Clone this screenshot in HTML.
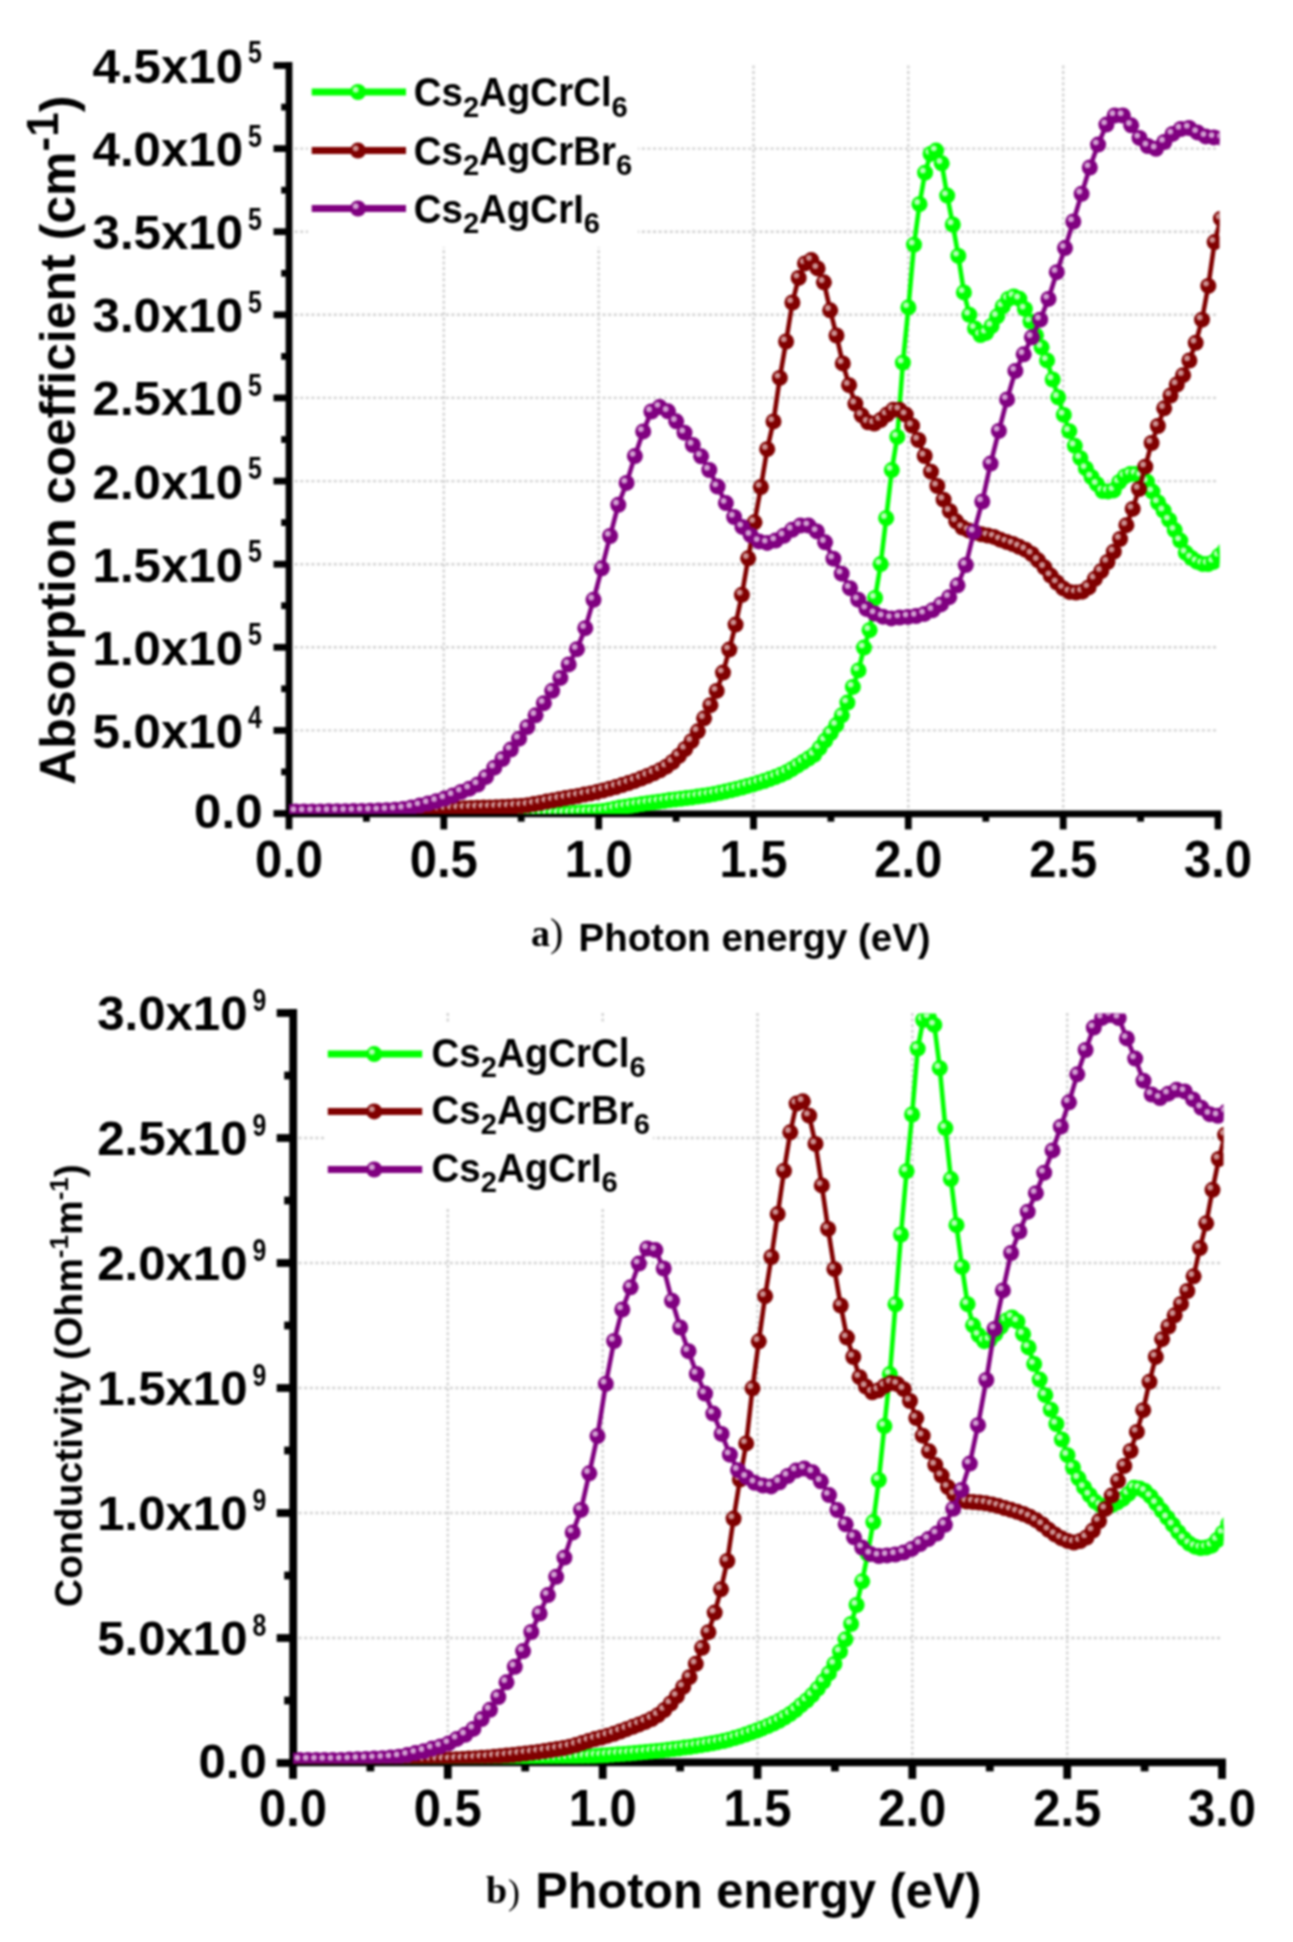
<!DOCTYPE html><html><head><meta charset="utf-8"><style>html,body{margin:0;padding:0;background:#fff;overflow:hidden;}svg{display:block;filter:blur(0.9px);}</style></head><body>
<svg width="1293" height="1942" viewBox="0 0 1293 1942">
<defs>
<g id="mg"><circle r="8" fill="#00ff00"/><circle cx="-2.3" cy="-2.3" r="2.9" fill="#b4ffb4"/></g>
<g id="mr"><circle r="8" fill="#800000"/><circle cx="-2.3" cy="-2.3" r="2.9" fill="#cc9090"/></g>
<g id="mp"><circle r="8" fill="#800080"/><circle cx="-2.3" cy="-2.3" r="2.9" fill="#d2a0d2"/></g>
<clipPath id="cT"><rect x="289" y="66" width="930.5" height="748"/></clipPath>
<clipPath id="cB"><rect x="293" y="1013.5" width="930.5" height="750"/></clipPath>
</defs>
<rect width="1293" height="1942" fill="#fff"/>
<g stroke="#d2d2d2" stroke-width="2.4" stroke-dasharray="3 2.6"><line x1="443.8" y1="65.5" x2="443.8" y2="813.5"/><line x1="598.7" y1="65.5" x2="598.7" y2="813.5"/><line x1="753.5" y1="65.5" x2="753.5" y2="813.5"/><line x1="908.3" y1="65.5" x2="908.3" y2="813.5"/><line x1="1063.2" y1="65.5" x2="1063.2" y2="813.5"/><line x1="289" y1="730.4" x2="1218" y2="730.4"/><line x1="289" y1="647.3" x2="1218" y2="647.3"/><line x1="289" y1="564.2" x2="1218" y2="564.2"/><line x1="289" y1="481.1" x2="1218" y2="481.1"/><line x1="289" y1="397.9" x2="1218" y2="397.9"/><line x1="289" y1="314.8" x2="1218" y2="314.8"/><line x1="289" y1="231.7" x2="1218" y2="231.7"/><line x1="289" y1="148.6" x2="1218" y2="148.6"/></g>
<rect x="308" y="60" width="330" height="187" fill="#fff"/>
<g stroke="#000" stroke-width="6.8"><line x1="289" y1="62.1" x2="289" y2="817.3"/><line x1="285.6" y1="813.9" x2="1221.4" y2="813.9"/><line x1="289" y1="813.9" x2="289" y2="829.4"/><line x1="366.4" y1="813.9" x2="366.4" y2="821.7"/><line x1="443.8" y1="813.9" x2="443.8" y2="829.4"/><line x1="521.2" y1="813.9" x2="521.2" y2="821.7"/><line x1="598.7" y1="813.9" x2="598.7" y2="829.4"/><line x1="676.1" y1="813.9" x2="676.1" y2="821.7"/><line x1="753.5" y1="813.9" x2="753.5" y2="829.4"/><line x1="830.9" y1="813.9" x2="830.9" y2="821.7"/><line x1="908.3" y1="813.9" x2="908.3" y2="829.4"/><line x1="985.8" y1="813.9" x2="985.8" y2="821.7"/><line x1="1063.2" y1="813.9" x2="1063.2" y2="829.4"/><line x1="1140.6" y1="813.9" x2="1140.6" y2="821.7"/><line x1="1218" y1="813.9" x2="1218" y2="829.4"/><line x1="273.5" y1="813.5" x2="289" y2="813.5"/><line x1="281.2" y1="771.9" x2="289" y2="771.9"/><line x1="273.5" y1="730.4" x2="289" y2="730.4"/><line x1="281.2" y1="688.8" x2="289" y2="688.8"/><line x1="273.5" y1="647.3" x2="289" y2="647.3"/><line x1="281.2" y1="605.7" x2="289" y2="605.7"/><line x1="273.5" y1="564.2" x2="289" y2="564.2"/><line x1="281.2" y1="522.6" x2="289" y2="522.6"/><line x1="273.5" y1="481.1" x2="289" y2="481.1"/><line x1="281.2" y1="439.5" x2="289" y2="439.5"/><line x1="273.5" y1="397.9" x2="289" y2="397.9"/><line x1="281.2" y1="356.4" x2="289" y2="356.4"/><line x1="273.5" y1="314.8" x2="289" y2="314.8"/><line x1="281.2" y1="273.3" x2="289" y2="273.3"/><line x1="273.5" y1="231.7" x2="289" y2="231.7"/><line x1="281.2" y1="190.2" x2="289" y2="190.2"/><line x1="273.5" y1="148.6" x2="289" y2="148.6"/><line x1="281.2" y1="107.1" x2="289" y2="107.1"/><line x1="273.5" y1="65.5" x2="289" y2="65.5"/></g>
<g clip-path="url(#cT)">
<polyline points="287,813.5 292.6,813.5 298.1,813.5 303.7,813.5 309.2,813.5 314.8,813.5 320.3,813.5 325.9,813.5 331.4,813.5 337,813.5 342.5,813.5 348.1,813.5 353.6,813.5 359.2,813.5 364.7,813.5 370.2,813.5 375.8,813.5 381.3,813.5 386.9,813.5 392.4,813.5 398,813.5 403.5,813.5 409.1,813.5 414.6,813.5 420.2,813.5 425.7,813.5 431.3,813.5 436.8,813.4 442.4,813.4 447.9,813.4 453.5,813.4 459,813.4 464.6,813.4 470.1,813.3 475.7,813.3 481.2,813.3 486.8,813.3 492.3,813.3 497.9,813.3 503.4,813.3 509,813.4 514.5,813.5 520,813.6 525.6,813.7 531.1,813.8 536.7,813.9 542.2,814 547.8,814 553.3,813.9 558.9,813.7 564.4,813.5 570,813.2 575.5,812.8 581.1,812.5 586.6,812.2 592.2,811.9 597.7,811.6 603.3,811.1 608.8,810.1 614.4,808.8 619.9,807.6 625.5,806.7 631,805.8 636.6,804.9 642.1,804.1 647.7,803.3 653.2,802.5 658.7,801.7 664.3,800.9 669.8,800.1 675.4,799.4 680.9,798.8 686.5,798.1 692,797.4 697.6,796.6 703.1,795.8 708.7,794.9 714.2,793.9 719.8,792.8 725.3,791.6 730.9,790.3 736.4,788.9 742,787.5 747.5,785.9 753.1,784.4 758.6,782.7 764.2,781 769.7,779.1 775.3,777.1 780.8,774.8 786.4,772.3 791.9,769.2 797.4,765.7 803,762.1 808.5,758.6 814.1,754.8 819.6,748.1 825.2,740.6 830.7,733.2 836.3,725.1 841.8,715.3 847.4,702.6 852.9,686.9 858.5,670.4 864,647.6 869.6,630.2 875.1,598 880.7,564.1 886.2,518.2 891.8,470.1 897.3,436.9 902.9,362.7 908.4,307.4 914,244.7 919.5,204.2 925.1,172.7 930.6,153.9 936.1,150.6 941.7,163.3 947.2,195.6 952.8,224.5 958.3,255.9 963.9,292.4 969.4,314.8 975,328.4 980.5,335 986.1,332.9 991.6,326 997.2,316.3 1002.7,306.4 1008.3,299 1013.8,296.5 1019.4,298.8 1024.9,308.9 1030.5,321.6 1036,335.3 1041.6,347.3 1047.1,360.4 1052.7,379.5 1058.2,397.3 1063.8,414.9 1069.3,431.2 1074.8,445.8 1080.4,458.2 1085.9,468.4 1091.5,477 1097,484.2 1102.6,491 1108.1,491.4 1113.7,490.4 1119.2,482.2 1124.8,476.4 1130.3,474.1 1135.9,474.1 1141.4,475.9 1147,481.7 1152.5,491.6 1158.1,502.5 1163.6,510.7 1169.2,519.9 1174.7,530.1 1180.3,540.6 1185.8,552.8 1191.4,558 1196.9,561.7 1202.5,563.9 1208,564 1213.5,561.9 1219.1,555.8 1224.6,550.5" fill="none" stroke="#00ff00" stroke-width="4.6" stroke-linejoin="round"/>
<use href="#mg" x="287" y="813.5"/>
<use href="#mg" x="292.6" y="813.5"/>
<use href="#mg" x="298.1" y="813.5"/>
<use href="#mg" x="303.7" y="813.5"/>
<use href="#mg" x="309.2" y="813.5"/>
<use href="#mg" x="314.8" y="813.5"/>
<use href="#mg" x="320.3" y="813.5"/>
<use href="#mg" x="325.9" y="813.5"/>
<use href="#mg" x="331.4" y="813.5"/>
<use href="#mg" x="337" y="813.5"/>
<use href="#mg" x="342.5" y="813.5"/>
<use href="#mg" x="348.1" y="813.5"/>
<use href="#mg" x="353.6" y="813.5"/>
<use href="#mg" x="359.2" y="813.5"/>
<use href="#mg" x="364.7" y="813.5"/>
<use href="#mg" x="370.2" y="813.5"/>
<use href="#mg" x="375.8" y="813.5"/>
<use href="#mg" x="381.3" y="813.5"/>
<use href="#mg" x="386.9" y="813.5"/>
<use href="#mg" x="392.4" y="813.5"/>
<use href="#mg" x="398" y="813.5"/>
<use href="#mg" x="403.5" y="813.5"/>
<use href="#mg" x="409.1" y="813.5"/>
<use href="#mg" x="414.6" y="813.5"/>
<use href="#mg" x="420.2" y="813.5"/>
<use href="#mg" x="425.7" y="813.5"/>
<use href="#mg" x="431.3" y="813.5"/>
<use href="#mg" x="436.8" y="813.4"/>
<use href="#mg" x="442.4" y="813.4"/>
<use href="#mg" x="447.9" y="813.4"/>
<use href="#mg" x="453.5" y="813.4"/>
<use href="#mg" x="459" y="813.4"/>
<use href="#mg" x="464.6" y="813.4"/>
<use href="#mg" x="470.1" y="813.3"/>
<use href="#mg" x="475.7" y="813.3"/>
<use href="#mg" x="481.2" y="813.3"/>
<use href="#mg" x="486.8" y="813.3"/>
<use href="#mg" x="492.3" y="813.3"/>
<use href="#mg" x="497.9" y="813.3"/>
<use href="#mg" x="503.4" y="813.3"/>
<use href="#mg" x="509" y="813.4"/>
<use href="#mg" x="514.5" y="813.5"/>
<use href="#mg" x="520" y="813.6"/>
<use href="#mg" x="525.6" y="813.7"/>
<use href="#mg" x="531.1" y="813.8"/>
<use href="#mg" x="536.7" y="813.9"/>
<use href="#mg" x="542.2" y="814"/>
<use href="#mg" x="547.8" y="814"/>
<use href="#mg" x="553.3" y="813.9"/>
<use href="#mg" x="558.9" y="813.7"/>
<use href="#mg" x="564.4" y="813.5"/>
<use href="#mg" x="570" y="813.2"/>
<use href="#mg" x="575.5" y="812.8"/>
<use href="#mg" x="581.1" y="812.5"/>
<use href="#mg" x="586.6" y="812.2"/>
<use href="#mg" x="592.2" y="811.9"/>
<use href="#mg" x="597.7" y="811.6"/>
<use href="#mg" x="603.3" y="811.1"/>
<use href="#mg" x="608.8" y="810.1"/>
<use href="#mg" x="614.4" y="808.8"/>
<use href="#mg" x="619.9" y="807.6"/>
<use href="#mg" x="625.5" y="806.7"/>
<use href="#mg" x="631" y="805.8"/>
<use href="#mg" x="636.6" y="804.9"/>
<use href="#mg" x="642.1" y="804.1"/>
<use href="#mg" x="647.7" y="803.3"/>
<use href="#mg" x="653.2" y="802.5"/>
<use href="#mg" x="658.7" y="801.7"/>
<use href="#mg" x="664.3" y="800.9"/>
<use href="#mg" x="669.8" y="800.1"/>
<use href="#mg" x="675.4" y="799.4"/>
<use href="#mg" x="680.9" y="798.8"/>
<use href="#mg" x="686.5" y="798.1"/>
<use href="#mg" x="692" y="797.4"/>
<use href="#mg" x="697.6" y="796.6"/>
<use href="#mg" x="703.1" y="795.8"/>
<use href="#mg" x="708.7" y="794.9"/>
<use href="#mg" x="714.2" y="793.9"/>
<use href="#mg" x="719.8" y="792.8"/>
<use href="#mg" x="725.3" y="791.6"/>
<use href="#mg" x="730.9" y="790.3"/>
<use href="#mg" x="736.4" y="788.9"/>
<use href="#mg" x="742" y="787.5"/>
<use href="#mg" x="747.5" y="785.9"/>
<use href="#mg" x="753.1" y="784.4"/>
<use href="#mg" x="758.6" y="782.7"/>
<use href="#mg" x="764.2" y="781"/>
<use href="#mg" x="769.7" y="779.1"/>
<use href="#mg" x="775.3" y="777.1"/>
<use href="#mg" x="780.8" y="774.8"/>
<use href="#mg" x="786.4" y="772.3"/>
<use href="#mg" x="791.9" y="769.2"/>
<use href="#mg" x="797.4" y="765.7"/>
<use href="#mg" x="803" y="762.1"/>
<use href="#mg" x="808.5" y="758.6"/>
<use href="#mg" x="814.1" y="754.8"/>
<use href="#mg" x="819.6" y="748.1"/>
<use href="#mg" x="825.2" y="740.6"/>
<use href="#mg" x="830.7" y="733.2"/>
<use href="#mg" x="836.3" y="725.1"/>
<use href="#mg" x="841.8" y="715.3"/>
<use href="#mg" x="847.4" y="702.6"/>
<use href="#mg" x="852.9" y="686.9"/>
<use href="#mg" x="858.5" y="670.4"/>
<use href="#mg" x="864" y="647.6"/>
<use href="#mg" x="869.6" y="630.2"/>
<use href="#mg" x="875.1" y="598"/>
<use href="#mg" x="880.7" y="564.1"/>
<use href="#mg" x="886.2" y="518.2"/>
<use href="#mg" x="891.8" y="470.1"/>
<use href="#mg" x="897.3" y="436.9"/>
<use href="#mg" x="902.9" y="362.7"/>
<use href="#mg" x="908.4" y="307.4"/>
<use href="#mg" x="914" y="244.7"/>
<use href="#mg" x="919.5" y="204.2"/>
<use href="#mg" x="925.1" y="172.7"/>
<use href="#mg" x="930.6" y="153.9"/>
<use href="#mg" x="936.1" y="150.6"/>
<use href="#mg" x="941.7" y="163.3"/>
<use href="#mg" x="947.2" y="195.6"/>
<use href="#mg" x="952.8" y="224.5"/>
<use href="#mg" x="958.3" y="255.9"/>
<use href="#mg" x="963.9" y="292.4"/>
<use href="#mg" x="969.4" y="314.8"/>
<use href="#mg" x="975" y="328.4"/>
<use href="#mg" x="980.5" y="335"/>
<use href="#mg" x="986.1" y="332.9"/>
<use href="#mg" x="991.6" y="326"/>
<use href="#mg" x="997.2" y="316.3"/>
<use href="#mg" x="1002.7" y="306.4"/>
<use href="#mg" x="1008.3" y="299"/>
<use href="#mg" x="1013.8" y="296.5"/>
<use href="#mg" x="1019.4" y="298.8"/>
<use href="#mg" x="1024.9" y="308.9"/>
<use href="#mg" x="1030.5" y="321.6"/>
<use href="#mg" x="1036" y="335.3"/>
<use href="#mg" x="1041.6" y="347.3"/>
<use href="#mg" x="1047.1" y="360.4"/>
<use href="#mg" x="1052.7" y="379.5"/>
<use href="#mg" x="1058.2" y="397.3"/>
<use href="#mg" x="1063.8" y="414.9"/>
<use href="#mg" x="1069.3" y="431.2"/>
<use href="#mg" x="1074.8" y="445.8"/>
<use href="#mg" x="1080.4" y="458.2"/>
<use href="#mg" x="1085.9" y="468.4"/>
<use href="#mg" x="1091.5" y="477"/>
<use href="#mg" x="1097" y="484.2"/>
<use href="#mg" x="1102.6" y="491"/>
<use href="#mg" x="1108.1" y="491.4"/>
<use href="#mg" x="1113.7" y="490.4"/>
<use href="#mg" x="1119.2" y="482.2"/>
<use href="#mg" x="1124.8" y="476.4"/>
<use href="#mg" x="1130.3" y="474.1"/>
<use href="#mg" x="1135.9" y="474.1"/>
<use href="#mg" x="1141.4" y="475.9"/>
<use href="#mg" x="1147" y="481.7"/>
<use href="#mg" x="1152.5" y="491.6"/>
<use href="#mg" x="1158.1" y="502.5"/>
<use href="#mg" x="1163.6" y="510.7"/>
<use href="#mg" x="1169.2" y="519.9"/>
<use href="#mg" x="1174.7" y="530.1"/>
<use href="#mg" x="1180.3" y="540.6"/>
<use href="#mg" x="1185.8" y="552.8"/>
<use href="#mg" x="1191.4" y="558"/>
<use href="#mg" x="1196.9" y="561.7"/>
<use href="#mg" x="1202.5" y="563.9"/>
<use href="#mg" x="1208" y="564"/>
<use href="#mg" x="1213.5" y="561.9"/>
<use href="#mg" x="1219.1" y="555.8"/>
<use href="#mg" x="1224.6" y="550.5"/>
</g>
<g clip-path="url(#cT)">
<polyline points="288.2,812.5 294.5,812.5 300.8,812.5 307.1,812.5 313.4,812.5 319.7,812.5 326,812.5 332.3,812.5 338.6,812.5 344.9,812.4 351.2,812.3 357.5,812.2 363.8,812.1 370.1,812 376.4,811.9 382.7,811.8 389,811.6 395.3,811.5 401.6,811.4 407.9,811.2 414.2,811 420.5,810.8 426.8,810.5 433.1,810.2 439.4,809.8 445.8,809.3 452.1,808.9 458.4,808.6 464.7,808.3 471,808 477.3,807.8 483.6,807.6 489.9,807.4 496.2,807.2 502.5,807 508.8,806.7 515.1,806.3 521.4,805.9 527.7,805.2 534,804.1 540.3,802.9 546.6,801.6 552.9,800.4 559.2,799.3 565.5,798.1 571.8,797 578.1,795.9 584.4,794.6 590.7,793.4 597,791.9 603.3,790.4 609.6,788.7 615.9,787 622.2,785.1 628.5,783.1 634.8,780.9 641.1,778.6 647.4,776 653.7,773.3 660,770.3 666.3,766.7 672.6,762 678.9,755.9 685.2,749 691.5,741.2 697.8,731.3 704.1,718.3 710.4,705.2 716.7,690.9 723,672.6 729.3,649.6 735.6,624.6 741.9,594.8 748.2,558.3 754.5,522.3 760.9,487.1 767.2,449.2 773.5,421.4 779.8,377.9 786.1,341.5 792.4,302.5 798.7,277.9 805,263.4 811.3,260.1 817.6,268.4 823.9,282.3 830.2,310.3 836.5,335.5 842.8,363.4 849.1,385.2 855.4,403.8 861.7,415.3 868,422.3 874.3,423.5 880.6,420.1 886.9,414.6 893.2,409.8 899.5,409.8 905.8,414.6 912.1,425.7 918.4,440 924.7,456 931,471.7 937.3,486 943.6,499.7 949.9,511.2 956.2,521.3 962.5,527.6 968.8,530.4 975.1,532.5 981.4,534.3 987.7,535.6 994,536.9 1000.3,539.7 1006.6,541.9 1012.9,544 1019.2,546.8 1025.5,549.7 1031.8,554 1038.1,560.3 1044.4,567.3 1050.7,575.6 1057,582.6 1063.3,588.4 1069.6,591.9 1076,592.6 1082.3,591.7 1088.6,587.4 1094.9,578.8 1101.2,571.2 1107.5,562 1113.8,551.7 1120.1,539 1126.4,525.2 1132.7,508.9 1139,489 1145.3,466.7 1151.6,443 1157.9,426 1164.2,408.3 1170.5,395.5 1176.8,384.5 1183.1,375.2 1189.4,360.5 1195.7,342.8 1202,319.7 1208.3,285.9 1214.6,242.1 1220.9,218.7" fill="none" stroke="#800000" stroke-width="4.6" stroke-linejoin="round"/>
<use href="#mr" x="288.2" y="812.5"/>
<use href="#mr" x="294.5" y="812.5"/>
<use href="#mr" x="300.8" y="812.5"/>
<use href="#mr" x="307.1" y="812.5"/>
<use href="#mr" x="313.4" y="812.5"/>
<use href="#mr" x="319.7" y="812.5"/>
<use href="#mr" x="326" y="812.5"/>
<use href="#mr" x="332.3" y="812.5"/>
<use href="#mr" x="338.6" y="812.5"/>
<use href="#mr" x="344.9" y="812.4"/>
<use href="#mr" x="351.2" y="812.3"/>
<use href="#mr" x="357.5" y="812.2"/>
<use href="#mr" x="363.8" y="812.1"/>
<use href="#mr" x="370.1" y="812"/>
<use href="#mr" x="376.4" y="811.9"/>
<use href="#mr" x="382.7" y="811.8"/>
<use href="#mr" x="389" y="811.6"/>
<use href="#mr" x="395.3" y="811.5"/>
<use href="#mr" x="401.6" y="811.4"/>
<use href="#mr" x="407.9" y="811.2"/>
<use href="#mr" x="414.2" y="811"/>
<use href="#mr" x="420.5" y="810.8"/>
<use href="#mr" x="426.8" y="810.5"/>
<use href="#mr" x="433.1" y="810.2"/>
<use href="#mr" x="439.4" y="809.8"/>
<use href="#mr" x="445.8" y="809.3"/>
<use href="#mr" x="452.1" y="808.9"/>
<use href="#mr" x="458.4" y="808.6"/>
<use href="#mr" x="464.7" y="808.3"/>
<use href="#mr" x="471" y="808"/>
<use href="#mr" x="477.3" y="807.8"/>
<use href="#mr" x="483.6" y="807.6"/>
<use href="#mr" x="489.9" y="807.4"/>
<use href="#mr" x="496.2" y="807.2"/>
<use href="#mr" x="502.5" y="807"/>
<use href="#mr" x="508.8" y="806.7"/>
<use href="#mr" x="515.1" y="806.3"/>
<use href="#mr" x="521.4" y="805.9"/>
<use href="#mr" x="527.7" y="805.2"/>
<use href="#mr" x="534" y="804.1"/>
<use href="#mr" x="540.3" y="802.9"/>
<use href="#mr" x="546.6" y="801.6"/>
<use href="#mr" x="552.9" y="800.4"/>
<use href="#mr" x="559.2" y="799.3"/>
<use href="#mr" x="565.5" y="798.1"/>
<use href="#mr" x="571.8" y="797"/>
<use href="#mr" x="578.1" y="795.9"/>
<use href="#mr" x="584.4" y="794.6"/>
<use href="#mr" x="590.7" y="793.4"/>
<use href="#mr" x="597" y="791.9"/>
<use href="#mr" x="603.3" y="790.4"/>
<use href="#mr" x="609.6" y="788.7"/>
<use href="#mr" x="615.9" y="787"/>
<use href="#mr" x="622.2" y="785.1"/>
<use href="#mr" x="628.5" y="783.1"/>
<use href="#mr" x="634.8" y="780.9"/>
<use href="#mr" x="641.1" y="778.6"/>
<use href="#mr" x="647.4" y="776"/>
<use href="#mr" x="653.7" y="773.3"/>
<use href="#mr" x="660" y="770.3"/>
<use href="#mr" x="666.3" y="766.7"/>
<use href="#mr" x="672.6" y="762"/>
<use href="#mr" x="678.9" y="755.9"/>
<use href="#mr" x="685.2" y="749"/>
<use href="#mr" x="691.5" y="741.2"/>
<use href="#mr" x="697.8" y="731.3"/>
<use href="#mr" x="704.1" y="718.3"/>
<use href="#mr" x="710.4" y="705.2"/>
<use href="#mr" x="716.7" y="690.9"/>
<use href="#mr" x="723" y="672.6"/>
<use href="#mr" x="729.3" y="649.6"/>
<use href="#mr" x="735.6" y="624.6"/>
<use href="#mr" x="741.9" y="594.8"/>
<use href="#mr" x="748.2" y="558.3"/>
<use href="#mr" x="754.5" y="522.3"/>
<use href="#mr" x="760.9" y="487.1"/>
<use href="#mr" x="767.2" y="449.2"/>
<use href="#mr" x="773.5" y="421.4"/>
<use href="#mr" x="779.8" y="377.9"/>
<use href="#mr" x="786.1" y="341.5"/>
<use href="#mr" x="792.4" y="302.5"/>
<use href="#mr" x="798.7" y="277.9"/>
<use href="#mr" x="805" y="263.4"/>
<use href="#mr" x="811.3" y="260.1"/>
<use href="#mr" x="817.6" y="268.4"/>
<use href="#mr" x="823.9" y="282.3"/>
<use href="#mr" x="830.2" y="310.3"/>
<use href="#mr" x="836.5" y="335.5"/>
<use href="#mr" x="842.8" y="363.4"/>
<use href="#mr" x="849.1" y="385.2"/>
<use href="#mr" x="855.4" y="403.8"/>
<use href="#mr" x="861.7" y="415.3"/>
<use href="#mr" x="868" y="422.3"/>
<use href="#mr" x="874.3" y="423.5"/>
<use href="#mr" x="880.6" y="420.1"/>
<use href="#mr" x="886.9" y="414.6"/>
<use href="#mr" x="893.2" y="409.8"/>
<use href="#mr" x="899.5" y="409.8"/>
<use href="#mr" x="905.8" y="414.6"/>
<use href="#mr" x="912.1" y="425.7"/>
<use href="#mr" x="918.4" y="440"/>
<use href="#mr" x="924.7" y="456"/>
<use href="#mr" x="931" y="471.7"/>
<use href="#mr" x="937.3" y="486"/>
<use href="#mr" x="943.6" y="499.7"/>
<use href="#mr" x="949.9" y="511.2"/>
<use href="#mr" x="956.2" y="521.3"/>
<use href="#mr" x="962.5" y="527.6"/>
<use href="#mr" x="968.8" y="530.4"/>
<use href="#mr" x="975.1" y="532.5"/>
<use href="#mr" x="981.4" y="534.3"/>
<use href="#mr" x="987.7" y="535.6"/>
<use href="#mr" x="994" y="536.9"/>
<use href="#mr" x="1000.3" y="539.7"/>
<use href="#mr" x="1006.6" y="541.9"/>
<use href="#mr" x="1012.9" y="544"/>
<use href="#mr" x="1019.2" y="546.8"/>
<use href="#mr" x="1025.5" y="549.7"/>
<use href="#mr" x="1031.8" y="554"/>
<use href="#mr" x="1038.1" y="560.3"/>
<use href="#mr" x="1044.4" y="567.3"/>
<use href="#mr" x="1050.7" y="575.6"/>
<use href="#mr" x="1057" y="582.6"/>
<use href="#mr" x="1063.3" y="588.4"/>
<use href="#mr" x="1069.6" y="591.9"/>
<use href="#mr" x="1076" y="592.6"/>
<use href="#mr" x="1082.3" y="591.7"/>
<use href="#mr" x="1088.6" y="587.4"/>
<use href="#mr" x="1094.9" y="578.8"/>
<use href="#mr" x="1101.2" y="571.2"/>
<use href="#mr" x="1107.5" y="562"/>
<use href="#mr" x="1113.8" y="551.7"/>
<use href="#mr" x="1120.1" y="539"/>
<use href="#mr" x="1126.4" y="525.2"/>
<use href="#mr" x="1132.7" y="508.9"/>
<use href="#mr" x="1139" y="489"/>
<use href="#mr" x="1145.3" y="466.7"/>
<use href="#mr" x="1151.6" y="443"/>
<use href="#mr" x="1157.9" y="426"/>
<use href="#mr" x="1164.2" y="408.3"/>
<use href="#mr" x="1170.5" y="395.5"/>
<use href="#mr" x="1176.8" y="384.5"/>
<use href="#mr" x="1183.1" y="375.2"/>
<use href="#mr" x="1189.4" y="360.5"/>
<use href="#mr" x="1195.7" y="342.8"/>
<use href="#mr" x="1202" y="319.7"/>
<use href="#mr" x="1208.3" y="285.9"/>
<use href="#mr" x="1214.6" y="242.1"/>
<use href="#mr" x="1220.9" y="218.7"/>
</g>
<g clip-path="url(#cT)">
<polyline points="287.5,811.5 295.7,811.5 304,811.5 312.3,811.4 320.5,811.4 328.8,811.3 337.1,811.2 345.4,811.2 353.6,811.1 361.9,810.9 370.2,810.8 378.5,810.6 386.7,810.2 395,809.7 403.3,809 411.5,807.5 419.8,805.6 428.1,803.5 436.4,801.2 444.6,798.6 452.9,795.5 461.2,791.9 469.4,788.7 477.7,784.5 486,776.9 494.3,767.7 502.5,759 510.8,749.6 519.1,738.7 527.3,727 535.6,715.3 543.9,703.2 552.2,690.8 560.4,677.9 568.7,664.4 577,649.2 585.3,628.2 593.5,599.8 601.8,568.3 610.1,536 618.3,504.8 626.6,482.9 634.9,456.1 643.2,431.4 651.4,411.5 659.7,407.1 668,411.3 676.2,421.3 684.5,432.7 692.8,445 701.1,456.3 709.3,470 717.6,486.6 725.9,503.1 734.1,517 742.4,526.9 750.7,535.2 759,541.4 767.2,542.9 775.5,540.6 783.8,535.8 792.1,529.8 800.3,525.6 808.6,525.6 816.9,531.4 825.1,542.3 833.4,558.7 841.7,573.7 850,588.2 858.2,599.7 866.5,608.9 874.8,613.6 883,616.7 891.3,618.4 899.6,617.6 907.9,616.9 916.1,616.1 924.4,613.9 932.7,610.2 940.9,604.4 949.2,597.2 957.5,585.3 965.8,565 974,531.8 982.3,501.5 990.6,463.6 998.9,430.9 1007.1,399.4 1015.4,370.9 1023.7,354.3 1031.9,337.3 1040.2,319.7 1048.5,298.9 1056.8,272.2 1065,248.1 1073.3,221.5 1081.6,193.8 1089.8,167.5 1098.1,144.6 1106.4,124.6 1114.7,115.5 1122.9,115.5 1131.2,125.3 1139.5,137.9 1147.7,146 1156,148.8 1164.3,142 1172.6,133.9 1180.8,129 1189.1,128 1197.4,132.4 1205.7,136.4 1213.9,137.4 1222.2,138" fill="none" stroke="#800080" stroke-width="4.6" stroke-linejoin="round"/>
<use href="#mp" x="287.5" y="811.5"/>
<use href="#mp" x="295.7" y="811.5"/>
<use href="#mp" x="304" y="811.5"/>
<use href="#mp" x="312.3" y="811.4"/>
<use href="#mp" x="320.5" y="811.4"/>
<use href="#mp" x="328.8" y="811.3"/>
<use href="#mp" x="337.1" y="811.2"/>
<use href="#mp" x="345.4" y="811.2"/>
<use href="#mp" x="353.6" y="811.1"/>
<use href="#mp" x="361.9" y="810.9"/>
<use href="#mp" x="370.2" y="810.8"/>
<use href="#mp" x="378.5" y="810.6"/>
<use href="#mp" x="386.7" y="810.2"/>
<use href="#mp" x="395" y="809.7"/>
<use href="#mp" x="403.3" y="809"/>
<use href="#mp" x="411.5" y="807.5"/>
<use href="#mp" x="419.8" y="805.6"/>
<use href="#mp" x="428.1" y="803.5"/>
<use href="#mp" x="436.4" y="801.2"/>
<use href="#mp" x="444.6" y="798.6"/>
<use href="#mp" x="452.9" y="795.5"/>
<use href="#mp" x="461.2" y="791.9"/>
<use href="#mp" x="469.4" y="788.7"/>
<use href="#mp" x="477.7" y="784.5"/>
<use href="#mp" x="486" y="776.9"/>
<use href="#mp" x="494.3" y="767.7"/>
<use href="#mp" x="502.5" y="759"/>
<use href="#mp" x="510.8" y="749.6"/>
<use href="#mp" x="519.1" y="738.7"/>
<use href="#mp" x="527.3" y="727"/>
<use href="#mp" x="535.6" y="715.3"/>
<use href="#mp" x="543.9" y="703.2"/>
<use href="#mp" x="552.2" y="690.8"/>
<use href="#mp" x="560.4" y="677.9"/>
<use href="#mp" x="568.7" y="664.4"/>
<use href="#mp" x="577" y="649.2"/>
<use href="#mp" x="585.3" y="628.2"/>
<use href="#mp" x="593.5" y="599.8"/>
<use href="#mp" x="601.8" y="568.3"/>
<use href="#mp" x="610.1" y="536"/>
<use href="#mp" x="618.3" y="504.8"/>
<use href="#mp" x="626.6" y="482.9"/>
<use href="#mp" x="634.9" y="456.1"/>
<use href="#mp" x="643.2" y="431.4"/>
<use href="#mp" x="651.4" y="411.5"/>
<use href="#mp" x="659.7" y="407.1"/>
<use href="#mp" x="668" y="411.3"/>
<use href="#mp" x="676.2" y="421.3"/>
<use href="#mp" x="684.5" y="432.7"/>
<use href="#mp" x="692.8" y="445"/>
<use href="#mp" x="701.1" y="456.3"/>
<use href="#mp" x="709.3" y="470"/>
<use href="#mp" x="717.6" y="486.6"/>
<use href="#mp" x="725.9" y="503.1"/>
<use href="#mp" x="734.1" y="517"/>
<use href="#mp" x="742.4" y="526.9"/>
<use href="#mp" x="750.7" y="535.2"/>
<use href="#mp" x="759" y="541.4"/>
<use href="#mp" x="767.2" y="542.9"/>
<use href="#mp" x="775.5" y="540.6"/>
<use href="#mp" x="783.8" y="535.8"/>
<use href="#mp" x="792.1" y="529.8"/>
<use href="#mp" x="800.3" y="525.6"/>
<use href="#mp" x="808.6" y="525.6"/>
<use href="#mp" x="816.9" y="531.4"/>
<use href="#mp" x="825.1" y="542.3"/>
<use href="#mp" x="833.4" y="558.7"/>
<use href="#mp" x="841.7" y="573.7"/>
<use href="#mp" x="850" y="588.2"/>
<use href="#mp" x="858.2" y="599.7"/>
<use href="#mp" x="866.5" y="608.9"/>
<use href="#mp" x="874.8" y="613.6"/>
<use href="#mp" x="883" y="616.7"/>
<use href="#mp" x="891.3" y="618.4"/>
<use href="#mp" x="899.6" y="617.6"/>
<use href="#mp" x="907.9" y="616.9"/>
<use href="#mp" x="916.1" y="616.1"/>
<use href="#mp" x="924.4" y="613.9"/>
<use href="#mp" x="932.7" y="610.2"/>
<use href="#mp" x="940.9" y="604.4"/>
<use href="#mp" x="949.2" y="597.2"/>
<use href="#mp" x="957.5" y="585.3"/>
<use href="#mp" x="965.8" y="565"/>
<use href="#mp" x="974" y="531.8"/>
<use href="#mp" x="982.3" y="501.5"/>
<use href="#mp" x="990.6" y="463.6"/>
<use href="#mp" x="998.9" y="430.9"/>
<use href="#mp" x="1007.1" y="399.4"/>
<use href="#mp" x="1015.4" y="370.9"/>
<use href="#mp" x="1023.7" y="354.3"/>
<use href="#mp" x="1031.9" y="337.3"/>
<use href="#mp" x="1040.2" y="319.7"/>
<use href="#mp" x="1048.5" y="298.9"/>
<use href="#mp" x="1056.8" y="272.2"/>
<use href="#mp" x="1065" y="248.1"/>
<use href="#mp" x="1073.3" y="221.5"/>
<use href="#mp" x="1081.6" y="193.8"/>
<use href="#mp" x="1089.8" y="167.5"/>
<use href="#mp" x="1098.1" y="144.6"/>
<use href="#mp" x="1106.4" y="124.6"/>
<use href="#mp" x="1114.7" y="115.5"/>
<use href="#mp" x="1122.9" y="115.5"/>
<use href="#mp" x="1131.2" y="125.3"/>
<use href="#mp" x="1139.5" y="137.9"/>
<use href="#mp" x="1147.7" y="146"/>
<use href="#mp" x="1156" y="148.8"/>
<use href="#mp" x="1164.3" y="142"/>
<use href="#mp" x="1172.6" y="133.9"/>
<use href="#mp" x="1180.8" y="129"/>
<use href="#mp" x="1189.1" y="128"/>
<use href="#mp" x="1197.4" y="132.4"/>
<use href="#mp" x="1205.7" y="136.4"/>
<use href="#mp" x="1213.9" y="137.4"/>
<use href="#mp" x="1222.2" y="138"/>
</g>
<g font-family='"Liberation Sans", sans-serif' font-weight="bold" fill="#000">
<line x1="311.7" y1="92" x2="406" y2="92" stroke="#00ff00" stroke-width="7"/><use href="#mg" x="358" y="92"/><text transform="translate(413.7,106.4) scale(1.04,1.08)" font-size="37"><tspan>Cs</tspan><tspan font-size="28" dy="9.4">2</tspan><tspan dy="-9.4" font-size="37">&#8203;</tspan><tspan>AgCrCl</tspan><tspan font-size="28" dy="9.4">6</tspan><tspan dy="-9.4" font-size="37">&#8203;</tspan></text><line x1="311.7" y1="150.6" x2="406" y2="150.6" stroke="#800000" stroke-width="7"/><use href="#mr" x="358" y="150.6"/><text transform="translate(413.7,165) scale(1.04,1.08)" font-size="37"><tspan>Cs</tspan><tspan font-size="28" dy="9.4">2</tspan><tspan dy="-9.4" font-size="37">&#8203;</tspan><tspan>AgCrBr</tspan><tspan font-size="28" dy="9.4">6</tspan><tspan dy="-9.4" font-size="37">&#8203;</tspan></text><line x1="311.7" y1="208.5" x2="406" y2="208.5" stroke="#800080" stroke-width="7"/><use href="#mp" x="358" y="208.5"/><text transform="translate(413.7,222.9) scale(1.04,1.08)" font-size="37"><tspan>Cs</tspan><tspan font-size="28" dy="9.4">2</tspan><tspan dy="-9.4" font-size="37">&#8203;</tspan><tspan>AgCrI</tspan><tspan font-size="28" dy="9.4">6</tspan><tspan dy="-9.4" font-size="37">&#8203;</tspan></text>
</g>
<g font-family='"Liberation Sans", sans-serif' font-weight="bold" font-size="48" fill="#000">
<text transform="translate(289,877) scale(1.02,1.07)" text-anchor="middle">0.0</text><text transform="translate(443.8,877) scale(1.02,1.07)" text-anchor="middle">0.5</text><text transform="translate(598.7,877) scale(1.02,1.07)" text-anchor="middle">1.0</text><text transform="translate(753.5,877) scale(1.02,1.07)" text-anchor="middle">1.5</text><text transform="translate(908.3,877) scale(1.02,1.07)" text-anchor="middle">2.0</text><text transform="translate(1063.2,877) scale(1.02,1.07)" text-anchor="middle">2.5</text><text transform="translate(1218,877) scale(1.02,1.07)" text-anchor="middle">3.0</text>
<text transform="translate(262.5,828.1) scale(1.025,1)" text-anchor="end">0.0</text><text transform="translate(243,747.8) scale(1.025,1)" text-anchor="end">5.0x10</text><text transform="translate(248,728.3) scale(0.8,1)" font-size="31">4</text><text transform="translate(243,664.7) scale(1.025,1)" text-anchor="end">1.0x10</text><text transform="translate(248,645.2) scale(0.8,1)" font-size="31">5</text><text transform="translate(243,581.6) scale(1.025,1)" text-anchor="end">1.5x10</text><text transform="translate(248,562.1) scale(0.8,1)" font-size="31">5</text><text transform="translate(243,498.5) scale(1.025,1)" text-anchor="end">2.0x10</text><text transform="translate(248,479) scale(0.8,1)" font-size="31">5</text><text transform="translate(243,415.3) scale(1.025,1)" text-anchor="end">2.5x10</text><text transform="translate(248,395.8) scale(0.8,1)" font-size="31">5</text><text transform="translate(243,332.2) scale(1.025,1)" text-anchor="end">3.0x10</text><text transform="translate(248,312.7) scale(0.8,1)" font-size="31">5</text><text transform="translate(243,249.1) scale(1.025,1)" text-anchor="end">3.5x10</text><text transform="translate(248,229.6) scale(0.8,1)" font-size="31">5</text><text transform="translate(243,166) scale(1.025,1)" text-anchor="end">4.0x10</text><text transform="translate(248,146.5) scale(0.8,1)" font-size="31">5</text><text transform="translate(243,82.9) scale(1.025,1)" text-anchor="end">4.5x10</text><text transform="translate(248,63.4) scale(0.8,1)" font-size="31">5</text>
</g>
<text transform="translate(74.5,784.8) rotate(-90)" font-family='"Liberation Sans", sans-serif' font-weight="bold" font-size="50" fill="#000">Absorption coefficient (cm<tspan font-size="44" dy="-17">-1</tspan><tspan dy="17">)</tspan></text>
<text x="531" y="945.5" font-family='"Liberation Serif", serif' font-weight="bold" font-size="38">a</text>
<text x="550" y="946" font-family='"Liberation Serif", serif' font-size="40">)</text>
<text x="578.6" y="950.5" font-family='"Liberation Sans", sans-serif' font-weight="bold" font-size="38.4" fill="#000">Photon energy (eV)</text>
<g stroke="#d2d2d2" stroke-width="2.4" stroke-dasharray="3 2.6"><line x1="447.8" y1="1013" x2="447.8" y2="1763"/><line x1="602.7" y1="1013" x2="602.7" y2="1763"/><line x1="757.5" y1="1013" x2="757.5" y2="1763"/><line x1="912.3" y1="1013" x2="912.3" y2="1763"/><line x1="1067.2" y1="1013" x2="1067.2" y2="1763"/><line x1="293" y1="1638" x2="1222" y2="1638"/><line x1="293" y1="1513" x2="1222" y2="1513"/><line x1="293" y1="1388" x2="1222" y2="1388"/><line x1="293" y1="1263" x2="1222" y2="1263"/><line x1="293" y1="1138" x2="1222" y2="1138"/></g>
<rect x="325" y="1024" width="328" height="184" fill="#fff"/>
<g stroke="#000" stroke-width="7.8"><line x1="293.2" y1="1009.1" x2="293.2" y2="1766.3"/><line x1="289.3" y1="1762.4" x2="1225.9" y2="1762.4"/><line x1="293" y1="1762.4" x2="293" y2="1778.9"/><line x1="370.4" y1="1762.4" x2="370.4" y2="1771.4"/><line x1="447.8" y1="1762.4" x2="447.8" y2="1778.9"/><line x1="525.2" y1="1762.4" x2="525.2" y2="1771.4"/><line x1="602.7" y1="1762.4" x2="602.7" y2="1778.9"/><line x1="680.1" y1="1762.4" x2="680.1" y2="1771.4"/><line x1="757.5" y1="1762.4" x2="757.5" y2="1778.9"/><line x1="834.9" y1="1762.4" x2="834.9" y2="1771.4"/><line x1="912.3" y1="1762.4" x2="912.3" y2="1778.9"/><line x1="989.8" y1="1762.4" x2="989.8" y2="1771.4"/><line x1="1067.2" y1="1762.4" x2="1067.2" y2="1778.9"/><line x1="1144.6" y1="1762.4" x2="1144.6" y2="1771.4"/><line x1="1222" y1="1762.4" x2="1222" y2="1778.9"/><line x1="276.7" y1="1763" x2="293.2" y2="1763"/><line x1="284.2" y1="1700.5" x2="293.2" y2="1700.5"/><line x1="276.7" y1="1638" x2="293.2" y2="1638"/><line x1="284.2" y1="1575.5" x2="293.2" y2="1575.5"/><line x1="276.7" y1="1513" x2="293.2" y2="1513"/><line x1="284.2" y1="1450.5" x2="293.2" y2="1450.5"/><line x1="276.7" y1="1388" x2="293.2" y2="1388"/><line x1="284.2" y1="1325.5" x2="293.2" y2="1325.5"/><line x1="276.7" y1="1263" x2="293.2" y2="1263"/><line x1="284.2" y1="1200.5" x2="293.2" y2="1200.5"/><line x1="276.7" y1="1138" x2="293.2" y2="1138"/><line x1="284.2" y1="1075.5" x2="293.2" y2="1075.5"/><line x1="276.7" y1="1013" x2="293.2" y2="1013"/></g>
<g clip-path="url(#cB)">
<polyline points="290.7,1762.5 296.3,1762.5 301.8,1762.5 307.4,1762.5 312.9,1762.5 318.5,1762.5 324,1762.5 329.6,1762.5 335.1,1762.5 340.7,1762.5 346.2,1762.5 351.8,1762.5 357.3,1762.5 362.9,1762.5 368.4,1762.5 374,1762.5 379.5,1762.5 385,1762.5 390.6,1762.5 396.1,1762.5 401.7,1762.5 407.2,1762.5 412.8,1762.5 418.3,1762.5 423.9,1762.5 429.4,1762.5 435,1762.5 440.5,1762.5 446.1,1762.5 451.6,1762.5 457.2,1762.5 462.7,1762.4 468.3,1762.4 473.8,1762.3 479.4,1762.2 484.9,1762.1 490.5,1762 496,1761.9 501.6,1761.7 507.1,1761.6 512.7,1761.4 518.2,1761.2 523.7,1761.1 529.3,1760.9 534.8,1760.7 540.4,1760.5 545.9,1760.2 551.5,1759.9 557,1759.5 562.6,1759.1 568.1,1758.6 573.7,1758.1 579.2,1757.6 584.8,1757 590.3,1756.5 595.9,1756 601.4,1755.6 607,1755.2 612.5,1754.7 618.1,1754.3 623.6,1753.9 629.2,1753.5 634.7,1753 640.3,1752.6 645.8,1752.1 651.4,1751.5 656.9,1750.9 662.4,1750.4 668,1749.7 673.5,1749.1 679.1,1748.4 684.6,1747.6 690.2,1746.9 695.7,1746.1 701.3,1745.2 706.8,1744.3 712.4,1743.3 717.9,1742.2 723.5,1741.1 729,1739.7 734.6,1738.1 740.1,1736.4 745.7,1734.5 751.2,1732.6 756.8,1730.5 762.3,1728.4 767.9,1726 773.4,1723.5 779,1720.8 784.5,1717.5 790.1,1714.1 795.6,1710.1 801.1,1705.2 806.7,1700.5 812.2,1695.1 817.8,1688.7 823.3,1681.5 828.9,1673.4 834.4,1664 840,1651.7 845.5,1639.3 851.1,1624 856.6,1605 862.2,1581.3 867.7,1553.9 873.3,1522.1 878.8,1480 884.4,1426.1 889.9,1374.1 895.5,1304.3 901,1234.5 906.6,1171.2 912.1,1114.5 917.7,1048.7 923.2,1020 928.8,1017.3 934.3,1024.9 939.8,1068.2 945.4,1128.1 950.9,1179.1 956.5,1225.2 962,1266.9 967.6,1304.2 973.1,1325.3 978.7,1335.1 984.2,1341.2 989.8,1340 995.3,1334.2 1000.9,1326.9 1006.4,1320.4 1012,1317.4 1017.5,1321.4 1023.1,1334.2 1028.6,1347.4 1034.2,1364.1 1039.7,1379.6 1045.3,1395.2 1050.8,1409.7 1056.4,1424 1061.9,1439.6 1067.5,1455.2 1073,1467.5 1078.5,1478.3 1084.1,1487.4 1089.6,1495 1095.2,1501.7 1100.7,1505.4 1106.3,1507 1111.8,1505.2 1117.4,1502.3 1122.9,1498.9 1128.5,1493.9 1134,1487.8 1139.6,1488.4 1145.1,1491.1 1150.7,1496.4 1156.2,1503.3 1161.8,1510.6 1167.3,1517.7 1172.9,1524.8 1178.4,1532.2 1184,1538.7 1189.5,1543.7 1195.1,1546.7 1200.6,1548.1 1206.2,1547.6 1211.7,1545.7 1217.2,1540 1222.8,1533 1228.3,1524" fill="none" stroke="#00ff00" stroke-width="4.6" stroke-linejoin="round"/>
<use href="#mg" x="290.7" y="1762.5"/>
<use href="#mg" x="296.3" y="1762.5"/>
<use href="#mg" x="301.8" y="1762.5"/>
<use href="#mg" x="307.4" y="1762.5"/>
<use href="#mg" x="312.9" y="1762.5"/>
<use href="#mg" x="318.5" y="1762.5"/>
<use href="#mg" x="324" y="1762.5"/>
<use href="#mg" x="329.6" y="1762.5"/>
<use href="#mg" x="335.1" y="1762.5"/>
<use href="#mg" x="340.7" y="1762.5"/>
<use href="#mg" x="346.2" y="1762.5"/>
<use href="#mg" x="351.8" y="1762.5"/>
<use href="#mg" x="357.3" y="1762.5"/>
<use href="#mg" x="362.9" y="1762.5"/>
<use href="#mg" x="368.4" y="1762.5"/>
<use href="#mg" x="374" y="1762.5"/>
<use href="#mg" x="379.5" y="1762.5"/>
<use href="#mg" x="385" y="1762.5"/>
<use href="#mg" x="390.6" y="1762.5"/>
<use href="#mg" x="396.1" y="1762.5"/>
<use href="#mg" x="401.7" y="1762.5"/>
<use href="#mg" x="407.2" y="1762.5"/>
<use href="#mg" x="412.8" y="1762.5"/>
<use href="#mg" x="418.3" y="1762.5"/>
<use href="#mg" x="423.9" y="1762.5"/>
<use href="#mg" x="429.4" y="1762.5"/>
<use href="#mg" x="435" y="1762.5"/>
<use href="#mg" x="440.5" y="1762.5"/>
<use href="#mg" x="446.1" y="1762.5"/>
<use href="#mg" x="451.6" y="1762.5"/>
<use href="#mg" x="457.2" y="1762.5"/>
<use href="#mg" x="462.7" y="1762.4"/>
<use href="#mg" x="468.3" y="1762.4"/>
<use href="#mg" x="473.8" y="1762.3"/>
<use href="#mg" x="479.4" y="1762.2"/>
<use href="#mg" x="484.9" y="1762.1"/>
<use href="#mg" x="490.5" y="1762"/>
<use href="#mg" x="496" y="1761.9"/>
<use href="#mg" x="501.6" y="1761.7"/>
<use href="#mg" x="507.1" y="1761.6"/>
<use href="#mg" x="512.7" y="1761.4"/>
<use href="#mg" x="518.2" y="1761.2"/>
<use href="#mg" x="523.7" y="1761.1"/>
<use href="#mg" x="529.3" y="1760.9"/>
<use href="#mg" x="534.8" y="1760.7"/>
<use href="#mg" x="540.4" y="1760.5"/>
<use href="#mg" x="545.9" y="1760.2"/>
<use href="#mg" x="551.5" y="1759.9"/>
<use href="#mg" x="557" y="1759.5"/>
<use href="#mg" x="562.6" y="1759.1"/>
<use href="#mg" x="568.1" y="1758.6"/>
<use href="#mg" x="573.7" y="1758.1"/>
<use href="#mg" x="579.2" y="1757.6"/>
<use href="#mg" x="584.8" y="1757"/>
<use href="#mg" x="590.3" y="1756.5"/>
<use href="#mg" x="595.9" y="1756"/>
<use href="#mg" x="601.4" y="1755.6"/>
<use href="#mg" x="607" y="1755.2"/>
<use href="#mg" x="612.5" y="1754.7"/>
<use href="#mg" x="618.1" y="1754.3"/>
<use href="#mg" x="623.6" y="1753.9"/>
<use href="#mg" x="629.2" y="1753.5"/>
<use href="#mg" x="634.7" y="1753"/>
<use href="#mg" x="640.3" y="1752.6"/>
<use href="#mg" x="645.8" y="1752.1"/>
<use href="#mg" x="651.4" y="1751.5"/>
<use href="#mg" x="656.9" y="1750.9"/>
<use href="#mg" x="662.4" y="1750.4"/>
<use href="#mg" x="668" y="1749.7"/>
<use href="#mg" x="673.5" y="1749.1"/>
<use href="#mg" x="679.1" y="1748.4"/>
<use href="#mg" x="684.6" y="1747.6"/>
<use href="#mg" x="690.2" y="1746.9"/>
<use href="#mg" x="695.7" y="1746.1"/>
<use href="#mg" x="701.3" y="1745.2"/>
<use href="#mg" x="706.8" y="1744.3"/>
<use href="#mg" x="712.4" y="1743.3"/>
<use href="#mg" x="717.9" y="1742.2"/>
<use href="#mg" x="723.5" y="1741.1"/>
<use href="#mg" x="729" y="1739.7"/>
<use href="#mg" x="734.6" y="1738.1"/>
<use href="#mg" x="740.1" y="1736.4"/>
<use href="#mg" x="745.7" y="1734.5"/>
<use href="#mg" x="751.2" y="1732.6"/>
<use href="#mg" x="756.8" y="1730.5"/>
<use href="#mg" x="762.3" y="1728.4"/>
<use href="#mg" x="767.9" y="1726"/>
<use href="#mg" x="773.4" y="1723.5"/>
<use href="#mg" x="779" y="1720.8"/>
<use href="#mg" x="784.5" y="1717.5"/>
<use href="#mg" x="790.1" y="1714.1"/>
<use href="#mg" x="795.6" y="1710.1"/>
<use href="#mg" x="801.1" y="1705.2"/>
<use href="#mg" x="806.7" y="1700.5"/>
<use href="#mg" x="812.2" y="1695.1"/>
<use href="#mg" x="817.8" y="1688.7"/>
<use href="#mg" x="823.3" y="1681.5"/>
<use href="#mg" x="828.9" y="1673.4"/>
<use href="#mg" x="834.4" y="1664"/>
<use href="#mg" x="840" y="1651.7"/>
<use href="#mg" x="845.5" y="1639.3"/>
<use href="#mg" x="851.1" y="1624"/>
<use href="#mg" x="856.6" y="1605"/>
<use href="#mg" x="862.2" y="1581.3"/>
<use href="#mg" x="867.7" y="1553.9"/>
<use href="#mg" x="873.3" y="1522.1"/>
<use href="#mg" x="878.8" y="1480"/>
<use href="#mg" x="884.4" y="1426.1"/>
<use href="#mg" x="889.9" y="1374.1"/>
<use href="#mg" x="895.5" y="1304.3"/>
<use href="#mg" x="901" y="1234.5"/>
<use href="#mg" x="906.6" y="1171.2"/>
<use href="#mg" x="912.1" y="1114.5"/>
<use href="#mg" x="917.7" y="1048.7"/>
<use href="#mg" x="923.2" y="1020"/>
<use href="#mg" x="928.8" y="1017.3"/>
<use href="#mg" x="934.3" y="1024.9"/>
<use href="#mg" x="939.8" y="1068.2"/>
<use href="#mg" x="945.4" y="1128.1"/>
<use href="#mg" x="950.9" y="1179.1"/>
<use href="#mg" x="956.5" y="1225.2"/>
<use href="#mg" x="962" y="1266.9"/>
<use href="#mg" x="967.6" y="1304.2"/>
<use href="#mg" x="973.1" y="1325.3"/>
<use href="#mg" x="978.7" y="1335.1"/>
<use href="#mg" x="984.2" y="1341.2"/>
<use href="#mg" x="989.8" y="1340"/>
<use href="#mg" x="995.3" y="1334.2"/>
<use href="#mg" x="1000.9" y="1326.9"/>
<use href="#mg" x="1006.4" y="1320.4"/>
<use href="#mg" x="1012" y="1317.4"/>
<use href="#mg" x="1017.5" y="1321.4"/>
<use href="#mg" x="1023.1" y="1334.2"/>
<use href="#mg" x="1028.6" y="1347.4"/>
<use href="#mg" x="1034.2" y="1364.1"/>
<use href="#mg" x="1039.7" y="1379.6"/>
<use href="#mg" x="1045.3" y="1395.2"/>
<use href="#mg" x="1050.8" y="1409.7"/>
<use href="#mg" x="1056.4" y="1424"/>
<use href="#mg" x="1061.9" y="1439.6"/>
<use href="#mg" x="1067.5" y="1455.2"/>
<use href="#mg" x="1073" y="1467.5"/>
<use href="#mg" x="1078.5" y="1478.3"/>
<use href="#mg" x="1084.1" y="1487.4"/>
<use href="#mg" x="1089.6" y="1495"/>
<use href="#mg" x="1095.2" y="1501.7"/>
<use href="#mg" x="1100.7" y="1505.4"/>
<use href="#mg" x="1106.3" y="1507"/>
<use href="#mg" x="1111.8" y="1505.2"/>
<use href="#mg" x="1117.4" y="1502.3"/>
<use href="#mg" x="1122.9" y="1498.9"/>
<use href="#mg" x="1128.5" y="1493.9"/>
<use href="#mg" x="1134" y="1487.8"/>
<use href="#mg" x="1139.6" y="1488.4"/>
<use href="#mg" x="1145.1" y="1491.1"/>
<use href="#mg" x="1150.7" y="1496.4"/>
<use href="#mg" x="1156.2" y="1503.3"/>
<use href="#mg" x="1161.8" y="1510.6"/>
<use href="#mg" x="1167.3" y="1517.7"/>
<use href="#mg" x="1172.9" y="1524.8"/>
<use href="#mg" x="1178.4" y="1532.2"/>
<use href="#mg" x="1184" y="1538.7"/>
<use href="#mg" x="1189.5" y="1543.7"/>
<use href="#mg" x="1195.1" y="1546.7"/>
<use href="#mg" x="1200.6" y="1548.1"/>
<use href="#mg" x="1206.2" y="1547.6"/>
<use href="#mg" x="1211.7" y="1545.7"/>
<use href="#mg" x="1217.2" y="1540"/>
<use href="#mg" x="1222.8" y="1533"/>
<use href="#mg" x="1228.3" y="1524"/>
</g>
<g clip-path="url(#cB)">
<polyline points="292.4,1761.5 298.8,1761.5 305.1,1761.5 311.4,1761.4 317.7,1761.4 324,1761.4 330.3,1761.3 336.6,1761.3 342.9,1761.2 349.2,1761.2 355.5,1761.1 361.8,1761.1 368.1,1761 374.4,1761 380.7,1760.9 387,1760.8 393.3,1760.8 399.6,1760.7 405.9,1760.6 412.2,1760.5 418.5,1760.4 424.8,1760.3 431.1,1760.1 437.4,1760 443.7,1759.8 450,1759.6 456.3,1759.3 462.6,1759 468.9,1758.6 475.2,1758.2 481.5,1757.8 487.8,1757.4 494.1,1756.8 500.4,1756.2 506.7,1755.6 513,1754.9 519.3,1754.2 525.6,1753.4 531.9,1752.7 538.2,1751.9 544.5,1751 550.8,1750.1 557.1,1749.1 563.4,1748 569.7,1746.7 576,1745 582.3,1742.9 588.6,1740.9 594.9,1739.1 601.2,1737.5 607.6,1735.7 613.9,1733.8 620.2,1731.5 626.5,1729.2 632.8,1726.8 639.1,1724.4 645.4,1721.9 651.7,1719 658,1715.2 664.3,1710.1 670.6,1703.5 676.9,1696.1 683.2,1686.9 689.5,1677.2 695.8,1663.8 702.1,1647.8 708.4,1632.2 714.7,1612.6 721,1589.3 727.3,1561 733.6,1518.6 739.9,1479.5 746.2,1443.4 752.5,1388.3 758.8,1341.3 765.1,1296.2 771.4,1257 777.7,1214.1 784,1170.8 790.3,1132.3 796.6,1103.6 802.9,1101.3 809.2,1115.7 815.5,1143.9 821.8,1185.4 828.1,1228.9 834.4,1269.2 840.7,1305.5 847,1337.6 853.3,1357 859.6,1377.2 865.9,1386.5 872.2,1392.3 878.5,1390.3 884.8,1385.9 891.1,1382.9 897.4,1384.1 903.7,1389.2 910,1401 916.3,1418.1 922.7,1435.7 929,1451.3 935.3,1465 941.6,1475.6 947.9,1487.1 954.2,1494.4 960.5,1500 966.8,1501.6 973.1,1502 979.4,1502.6 985.7,1503.3 992,1504.5 998.3,1506.1 1004.6,1508 1010.9,1509.8 1017.2,1511.8 1023.5,1514 1029.8,1516.7 1036.1,1520.2 1042.4,1524.5 1048.7,1529.8 1055,1534.4 1061.3,1538.2 1067.6,1540.9 1073.9,1542.5 1080.2,1541.1 1086.5,1537.5 1092.8,1530.6 1099.1,1521.1 1105.4,1508.9 1111.7,1495.6 1118,1480.8 1124.3,1465.9 1130.6,1450.9 1136.9,1431.9 1143.2,1410.2 1149.5,1381.8 1155.8,1356.9 1162.1,1339.2 1168.4,1326.5 1174.7,1315.3 1181,1303.9 1187.3,1291 1193.6,1276.3 1199.9,1248.1 1206.2,1223.3 1212.5,1189.8 1218.8,1159 1225.1,1134.8" fill="none" stroke="#800000" stroke-width="4.6" stroke-linejoin="round"/>
<use href="#mr" x="292.4" y="1761.5"/>
<use href="#mr" x="298.8" y="1761.5"/>
<use href="#mr" x="305.1" y="1761.5"/>
<use href="#mr" x="311.4" y="1761.4"/>
<use href="#mr" x="317.7" y="1761.4"/>
<use href="#mr" x="324" y="1761.4"/>
<use href="#mr" x="330.3" y="1761.3"/>
<use href="#mr" x="336.6" y="1761.3"/>
<use href="#mr" x="342.9" y="1761.2"/>
<use href="#mr" x="349.2" y="1761.2"/>
<use href="#mr" x="355.5" y="1761.1"/>
<use href="#mr" x="361.8" y="1761.1"/>
<use href="#mr" x="368.1" y="1761"/>
<use href="#mr" x="374.4" y="1761"/>
<use href="#mr" x="380.7" y="1760.9"/>
<use href="#mr" x="387" y="1760.8"/>
<use href="#mr" x="393.3" y="1760.8"/>
<use href="#mr" x="399.6" y="1760.7"/>
<use href="#mr" x="405.9" y="1760.6"/>
<use href="#mr" x="412.2" y="1760.5"/>
<use href="#mr" x="418.5" y="1760.4"/>
<use href="#mr" x="424.8" y="1760.3"/>
<use href="#mr" x="431.1" y="1760.1"/>
<use href="#mr" x="437.4" y="1760"/>
<use href="#mr" x="443.7" y="1759.8"/>
<use href="#mr" x="450" y="1759.6"/>
<use href="#mr" x="456.3" y="1759.3"/>
<use href="#mr" x="462.6" y="1759"/>
<use href="#mr" x="468.9" y="1758.6"/>
<use href="#mr" x="475.2" y="1758.2"/>
<use href="#mr" x="481.5" y="1757.8"/>
<use href="#mr" x="487.8" y="1757.4"/>
<use href="#mr" x="494.1" y="1756.8"/>
<use href="#mr" x="500.4" y="1756.2"/>
<use href="#mr" x="506.7" y="1755.6"/>
<use href="#mr" x="513" y="1754.9"/>
<use href="#mr" x="519.3" y="1754.2"/>
<use href="#mr" x="525.6" y="1753.4"/>
<use href="#mr" x="531.9" y="1752.7"/>
<use href="#mr" x="538.2" y="1751.9"/>
<use href="#mr" x="544.5" y="1751"/>
<use href="#mr" x="550.8" y="1750.1"/>
<use href="#mr" x="557.1" y="1749.1"/>
<use href="#mr" x="563.4" y="1748"/>
<use href="#mr" x="569.7" y="1746.7"/>
<use href="#mr" x="576" y="1745"/>
<use href="#mr" x="582.3" y="1742.9"/>
<use href="#mr" x="588.6" y="1740.9"/>
<use href="#mr" x="594.9" y="1739.1"/>
<use href="#mr" x="601.2" y="1737.5"/>
<use href="#mr" x="607.6" y="1735.7"/>
<use href="#mr" x="613.9" y="1733.8"/>
<use href="#mr" x="620.2" y="1731.5"/>
<use href="#mr" x="626.5" y="1729.2"/>
<use href="#mr" x="632.8" y="1726.8"/>
<use href="#mr" x="639.1" y="1724.4"/>
<use href="#mr" x="645.4" y="1721.9"/>
<use href="#mr" x="651.7" y="1719"/>
<use href="#mr" x="658" y="1715.2"/>
<use href="#mr" x="664.3" y="1710.1"/>
<use href="#mr" x="670.6" y="1703.5"/>
<use href="#mr" x="676.9" y="1696.1"/>
<use href="#mr" x="683.2" y="1686.9"/>
<use href="#mr" x="689.5" y="1677.2"/>
<use href="#mr" x="695.8" y="1663.8"/>
<use href="#mr" x="702.1" y="1647.8"/>
<use href="#mr" x="708.4" y="1632.2"/>
<use href="#mr" x="714.7" y="1612.6"/>
<use href="#mr" x="721" y="1589.3"/>
<use href="#mr" x="727.3" y="1561"/>
<use href="#mr" x="733.6" y="1518.6"/>
<use href="#mr" x="739.9" y="1479.5"/>
<use href="#mr" x="746.2" y="1443.4"/>
<use href="#mr" x="752.5" y="1388.3"/>
<use href="#mr" x="758.8" y="1341.3"/>
<use href="#mr" x="765.1" y="1296.2"/>
<use href="#mr" x="771.4" y="1257"/>
<use href="#mr" x="777.7" y="1214.1"/>
<use href="#mr" x="784" y="1170.8"/>
<use href="#mr" x="790.3" y="1132.3"/>
<use href="#mr" x="796.6" y="1103.6"/>
<use href="#mr" x="802.9" y="1101.3"/>
<use href="#mr" x="809.2" y="1115.7"/>
<use href="#mr" x="815.5" y="1143.9"/>
<use href="#mr" x="821.8" y="1185.4"/>
<use href="#mr" x="828.1" y="1228.9"/>
<use href="#mr" x="834.4" y="1269.2"/>
<use href="#mr" x="840.7" y="1305.5"/>
<use href="#mr" x="847" y="1337.6"/>
<use href="#mr" x="853.3" y="1357"/>
<use href="#mr" x="859.6" y="1377.2"/>
<use href="#mr" x="865.9" y="1386.5"/>
<use href="#mr" x="872.2" y="1392.3"/>
<use href="#mr" x="878.5" y="1390.3"/>
<use href="#mr" x="884.8" y="1385.9"/>
<use href="#mr" x="891.1" y="1382.9"/>
<use href="#mr" x="897.4" y="1384.1"/>
<use href="#mr" x="903.7" y="1389.2"/>
<use href="#mr" x="910" y="1401"/>
<use href="#mr" x="916.3" y="1418.1"/>
<use href="#mr" x="922.7" y="1435.7"/>
<use href="#mr" x="929" y="1451.3"/>
<use href="#mr" x="935.3" y="1465"/>
<use href="#mr" x="941.6" y="1475.6"/>
<use href="#mr" x="947.9" y="1487.1"/>
<use href="#mr" x="954.2" y="1494.4"/>
<use href="#mr" x="960.5" y="1500"/>
<use href="#mr" x="966.8" y="1501.6"/>
<use href="#mr" x="973.1" y="1502"/>
<use href="#mr" x="979.4" y="1502.6"/>
<use href="#mr" x="985.7" y="1503.3"/>
<use href="#mr" x="992" y="1504.5"/>
<use href="#mr" x="998.3" y="1506.1"/>
<use href="#mr" x="1004.6" y="1508"/>
<use href="#mr" x="1010.9" y="1509.8"/>
<use href="#mr" x="1017.2" y="1511.8"/>
<use href="#mr" x="1023.5" y="1514"/>
<use href="#mr" x="1029.8" y="1516.7"/>
<use href="#mr" x="1036.1" y="1520.2"/>
<use href="#mr" x="1042.4" y="1524.5"/>
<use href="#mr" x="1048.7" y="1529.8"/>
<use href="#mr" x="1055" y="1534.4"/>
<use href="#mr" x="1061.3" y="1538.2"/>
<use href="#mr" x="1067.6" y="1540.9"/>
<use href="#mr" x="1073.9" y="1542.5"/>
<use href="#mr" x="1080.2" y="1541.1"/>
<use href="#mr" x="1086.5" y="1537.5"/>
<use href="#mr" x="1092.8" y="1530.6"/>
<use href="#mr" x="1099.1" y="1521.1"/>
<use href="#mr" x="1105.4" y="1508.9"/>
<use href="#mr" x="1111.7" y="1495.6"/>
<use href="#mr" x="1118" y="1480.8"/>
<use href="#mr" x="1124.3" y="1465.9"/>
<use href="#mr" x="1130.6" y="1450.9"/>
<use href="#mr" x="1136.9" y="1431.9"/>
<use href="#mr" x="1143.2" y="1410.2"/>
<use href="#mr" x="1149.5" y="1381.8"/>
<use href="#mr" x="1155.8" y="1356.9"/>
<use href="#mr" x="1162.1" y="1339.2"/>
<use href="#mr" x="1168.4" y="1326.5"/>
<use href="#mr" x="1174.7" y="1315.3"/>
<use href="#mr" x="1181" y="1303.9"/>
<use href="#mr" x="1187.3" y="1291"/>
<use href="#mr" x="1193.6" y="1276.3"/>
<use href="#mr" x="1199.9" y="1248.1"/>
<use href="#mr" x="1206.2" y="1223.3"/>
<use href="#mr" x="1212.5" y="1189.8"/>
<use href="#mr" x="1218.8" y="1159"/>
<use href="#mr" x="1225.1" y="1134.8"/>
</g>
<g clip-path="url(#cB)">
<polyline points="291.5,1760 299.7,1760 308,1760 316.3,1760 324.5,1760 332.8,1760 341.1,1759.9 349.4,1759.6 357.6,1759.3 365.9,1759 374.2,1758.6 382.5,1758.2 390.7,1757.6 399,1756.7 407.3,1755.1 415.5,1753.1 423.8,1751.3 432.1,1748.6 440.4,1746.4 448.6,1743.4 456.9,1738.9 465.2,1734.8 473.4,1728.9 481.7,1719.1 490,1709.8 498.3,1697 506.5,1682.3 514.8,1666.8 523.1,1651.1 531.3,1632 539.6,1613.5 547.9,1595.1 556.2,1576.8 564.4,1557.6 572.7,1532.4 581,1509.9 589.3,1473.3 597.5,1436.1 605.8,1383.8 614.1,1341 622.3,1309.5 630.6,1287.3 638.9,1263.6 647.2,1248.5 655.4,1250.1 663.7,1268.5 672,1300.8 680.2,1327.5 688.5,1351.2 696.8,1374 705.1,1393.6 713.3,1413.6 721.6,1433.9 729.9,1454.7 738.1,1470.2 746.4,1477.2 754.7,1482.8 763,1485.6 771.2,1486.4 779.5,1482.3 787.8,1476 796.1,1470.6 804.3,1468.6 812.6,1472.3 820.9,1481.3 829.1,1495.1 837.4,1510.1 845.7,1524.3 854,1537.3 862.2,1547.6 870.5,1554 878.8,1556 887,1555.4 895.3,1554.5 903.6,1552.6 911.9,1548.9 920.1,1544 928.4,1539.1 936.7,1533.6 944.9,1524.8 953.2,1508.8 961.5,1489.9 969.8,1463.6 978,1425.2 986.3,1380 994.6,1328.9 1002.9,1290.4 1011.1,1253 1019.4,1231.5 1027.7,1211.7 1035.9,1193.2 1044.2,1172.7 1052.5,1150.4 1060.8,1126.7 1069,1102.3 1077.3,1074.3 1085.6,1050 1093.8,1027.6 1102.1,1017.9 1110.4,1015.1 1118.7,1018 1126.9,1038.4 1135.2,1058.6 1143.5,1080.7 1151.7,1094.5 1160,1098.1 1168.3,1093.7 1176.6,1089.8 1184.8,1091.4 1193.1,1099.4 1201.4,1107.8 1209.7,1114.2 1217.9,1115.8 1226.2,1111.8" fill="none" stroke="#800080" stroke-width="4.6" stroke-linejoin="round"/>
<use href="#mp" x="291.5" y="1760"/>
<use href="#mp" x="299.7" y="1760"/>
<use href="#mp" x="308" y="1760"/>
<use href="#mp" x="316.3" y="1760"/>
<use href="#mp" x="324.5" y="1760"/>
<use href="#mp" x="332.8" y="1760"/>
<use href="#mp" x="341.1" y="1759.9"/>
<use href="#mp" x="349.4" y="1759.6"/>
<use href="#mp" x="357.6" y="1759.3"/>
<use href="#mp" x="365.9" y="1759"/>
<use href="#mp" x="374.2" y="1758.6"/>
<use href="#mp" x="382.5" y="1758.2"/>
<use href="#mp" x="390.7" y="1757.6"/>
<use href="#mp" x="399" y="1756.7"/>
<use href="#mp" x="407.3" y="1755.1"/>
<use href="#mp" x="415.5" y="1753.1"/>
<use href="#mp" x="423.8" y="1751.3"/>
<use href="#mp" x="432.1" y="1748.6"/>
<use href="#mp" x="440.4" y="1746.4"/>
<use href="#mp" x="448.6" y="1743.4"/>
<use href="#mp" x="456.9" y="1738.9"/>
<use href="#mp" x="465.2" y="1734.8"/>
<use href="#mp" x="473.4" y="1728.9"/>
<use href="#mp" x="481.7" y="1719.1"/>
<use href="#mp" x="490" y="1709.8"/>
<use href="#mp" x="498.3" y="1697"/>
<use href="#mp" x="506.5" y="1682.3"/>
<use href="#mp" x="514.8" y="1666.8"/>
<use href="#mp" x="523.1" y="1651.1"/>
<use href="#mp" x="531.3" y="1632"/>
<use href="#mp" x="539.6" y="1613.5"/>
<use href="#mp" x="547.9" y="1595.1"/>
<use href="#mp" x="556.2" y="1576.8"/>
<use href="#mp" x="564.4" y="1557.6"/>
<use href="#mp" x="572.7" y="1532.4"/>
<use href="#mp" x="581" y="1509.9"/>
<use href="#mp" x="589.3" y="1473.3"/>
<use href="#mp" x="597.5" y="1436.1"/>
<use href="#mp" x="605.8" y="1383.8"/>
<use href="#mp" x="614.1" y="1341"/>
<use href="#mp" x="622.3" y="1309.5"/>
<use href="#mp" x="630.6" y="1287.3"/>
<use href="#mp" x="638.9" y="1263.6"/>
<use href="#mp" x="647.2" y="1248.5"/>
<use href="#mp" x="655.4" y="1250.1"/>
<use href="#mp" x="663.7" y="1268.5"/>
<use href="#mp" x="672" y="1300.8"/>
<use href="#mp" x="680.2" y="1327.5"/>
<use href="#mp" x="688.5" y="1351.2"/>
<use href="#mp" x="696.8" y="1374"/>
<use href="#mp" x="705.1" y="1393.6"/>
<use href="#mp" x="713.3" y="1413.6"/>
<use href="#mp" x="721.6" y="1433.9"/>
<use href="#mp" x="729.9" y="1454.7"/>
<use href="#mp" x="738.1" y="1470.2"/>
<use href="#mp" x="746.4" y="1477.2"/>
<use href="#mp" x="754.7" y="1482.8"/>
<use href="#mp" x="763" y="1485.6"/>
<use href="#mp" x="771.2" y="1486.4"/>
<use href="#mp" x="779.5" y="1482.3"/>
<use href="#mp" x="787.8" y="1476"/>
<use href="#mp" x="796.1" y="1470.6"/>
<use href="#mp" x="804.3" y="1468.6"/>
<use href="#mp" x="812.6" y="1472.3"/>
<use href="#mp" x="820.9" y="1481.3"/>
<use href="#mp" x="829.1" y="1495.1"/>
<use href="#mp" x="837.4" y="1510.1"/>
<use href="#mp" x="845.7" y="1524.3"/>
<use href="#mp" x="854" y="1537.3"/>
<use href="#mp" x="862.2" y="1547.6"/>
<use href="#mp" x="870.5" y="1554"/>
<use href="#mp" x="878.8" y="1556"/>
<use href="#mp" x="887" y="1555.4"/>
<use href="#mp" x="895.3" y="1554.5"/>
<use href="#mp" x="903.6" y="1552.6"/>
<use href="#mp" x="911.9" y="1548.9"/>
<use href="#mp" x="920.1" y="1544"/>
<use href="#mp" x="928.4" y="1539.1"/>
<use href="#mp" x="936.7" y="1533.6"/>
<use href="#mp" x="944.9" y="1524.8"/>
<use href="#mp" x="953.2" y="1508.8"/>
<use href="#mp" x="961.5" y="1489.9"/>
<use href="#mp" x="969.8" y="1463.6"/>
<use href="#mp" x="978" y="1425.2"/>
<use href="#mp" x="986.3" y="1380"/>
<use href="#mp" x="994.6" y="1328.9"/>
<use href="#mp" x="1002.9" y="1290.4"/>
<use href="#mp" x="1011.1" y="1253"/>
<use href="#mp" x="1019.4" y="1231.5"/>
<use href="#mp" x="1027.7" y="1211.7"/>
<use href="#mp" x="1035.9" y="1193.2"/>
<use href="#mp" x="1044.2" y="1172.7"/>
<use href="#mp" x="1052.5" y="1150.4"/>
<use href="#mp" x="1060.8" y="1126.7"/>
<use href="#mp" x="1069" y="1102.3"/>
<use href="#mp" x="1077.3" y="1074.3"/>
<use href="#mp" x="1085.6" y="1050"/>
<use href="#mp" x="1093.8" y="1027.6"/>
<use href="#mp" x="1102.1" y="1017.9"/>
<use href="#mp" x="1110.4" y="1015.1"/>
<use href="#mp" x="1118.7" y="1018"/>
<use href="#mp" x="1126.9" y="1038.4"/>
<use href="#mp" x="1135.2" y="1058.6"/>
<use href="#mp" x="1143.5" y="1080.7"/>
<use href="#mp" x="1151.7" y="1094.5"/>
<use href="#mp" x="1160" y="1098.1"/>
<use href="#mp" x="1168.3" y="1093.7"/>
<use href="#mp" x="1176.6" y="1089.8"/>
<use href="#mp" x="1184.8" y="1091.4"/>
<use href="#mp" x="1193.1" y="1099.4"/>
<use href="#mp" x="1201.4" y="1107.8"/>
<use href="#mp" x="1209.7" y="1114.2"/>
<use href="#mp" x="1217.9" y="1115.8"/>
<use href="#mp" x="1226.2" y="1111.8"/>
</g>
<g font-family='"Liberation Sans", sans-serif' font-weight="bold" fill="#000">
<line x1="327.8" y1="1054.1" x2="422.2" y2="1054.1" stroke="#00ff00" stroke-width="7"/><use href="#mg" x="374.2" y="1054.1"/><text transform="translate(431.5,1066.5) scale(1.04,1.08)" font-size="37"><tspan>Cs</tspan><tspan font-size="28" dy="9.4">2</tspan><tspan dy="-9.4" font-size="37">&#8203;</tspan><tspan>AgCrCl</tspan><tspan font-size="28" dy="9.4">6</tspan><tspan dy="-9.4" font-size="37">&#8203;</tspan></text><line x1="327.8" y1="1111.4" x2="422.2" y2="1111.4" stroke="#800000" stroke-width="7"/><use href="#mr" x="374.2" y="1111.4"/><text transform="translate(431.5,1123.8) scale(1.04,1.08)" font-size="37"><tspan>Cs</tspan><tspan font-size="28" dy="9.4">2</tspan><tspan dy="-9.4" font-size="37">&#8203;</tspan><tspan>AgCrBr</tspan><tspan font-size="28" dy="9.4">6</tspan><tspan dy="-9.4" font-size="37">&#8203;</tspan></text><line x1="327.8" y1="1169.5" x2="422.2" y2="1169.5" stroke="#800080" stroke-width="7"/><use href="#mp" x="374.2" y="1169.5"/><text transform="translate(431.5,1181.9) scale(1.04,1.08)" font-size="37"><tspan>Cs</tspan><tspan font-size="28" dy="9.4">2</tspan><tspan dy="-9.4" font-size="37">&#8203;</tspan><tspan>AgCrI</tspan><tspan font-size="28" dy="9.4">6</tspan><tspan dy="-9.4" font-size="37">&#8203;</tspan></text>
</g>
<g font-family='"Liberation Sans", sans-serif' font-weight="bold" font-size="48" fill="#000">
<text transform="translate(293,1826) scale(1.02,1.07)" text-anchor="middle">0.0</text><text transform="translate(447.8,1826) scale(1.02,1.07)" text-anchor="middle">0.5</text><text transform="translate(602.7,1826) scale(1.02,1.07)" text-anchor="middle">1.0</text><text transform="translate(757.5,1826) scale(1.02,1.07)" text-anchor="middle">1.5</text><text transform="translate(912.3,1826) scale(1.02,1.07)" text-anchor="middle">2.0</text><text transform="translate(1067.2,1826) scale(1.02,1.07)" text-anchor="middle">2.5</text><text transform="translate(1222,1826) scale(1.02,1.07)" text-anchor="middle">3.0</text>
<text transform="translate(266.9,1777.6) scale(1.025,1)" text-anchor="end">0.0</text><text transform="translate(247.6,1655.4) scale(1.025,1)" text-anchor="end">5.0x10</text><text transform="translate(252.4,1635.9) scale(0.8,1)" font-size="31">8</text><text transform="translate(247.6,1530.4) scale(1.025,1)" text-anchor="end">1.0x10</text><text transform="translate(252.4,1510.9) scale(0.8,1)" font-size="31">9</text><text transform="translate(247.6,1405.4) scale(1.025,1)" text-anchor="end">1.5x10</text><text transform="translate(252.4,1385.9) scale(0.8,1)" font-size="31">9</text><text transform="translate(247.6,1280.4) scale(1.025,1)" text-anchor="end">2.0x10</text><text transform="translate(252.4,1260.9) scale(0.8,1)" font-size="31">9</text><text transform="translate(247.6,1155.4) scale(1.025,1)" text-anchor="end">2.5x10</text><text transform="translate(252.4,1135.9) scale(0.8,1)" font-size="31">9</text><text transform="translate(247.6,1030.4) scale(1.025,1)" text-anchor="end">3.0x10</text><text transform="translate(252.4,1010.9) scale(0.8,1)" font-size="31">9</text>
</g>
<text transform="translate(81.9,1607) rotate(-90)" font-family='"Liberation Sans", sans-serif' font-weight="bold" font-size="39" fill="#000">Conductivity (Ohm<tspan font-size="26" dy="-14">-1</tspan><tspan dy="14">m</tspan><tspan font-size="26" dy="-14">-1</tspan><tspan dy="14">)</tspan></text>
<text x="486" y="1902.7" font-family='"Liberation Serif", serif' font-weight="bold" font-size="38">b</text>
<text x="508" y="1904" font-family='"Liberation Serif", serif' font-size="36">)</text>
<text transform="translate(535.2,1907.5) scale(1,1.03)" font-family='"Liberation Sans", sans-serif' font-weight="bold" font-size="48.7" fill="#000">Photon energy (eV)</text>
</svg></body></html>
